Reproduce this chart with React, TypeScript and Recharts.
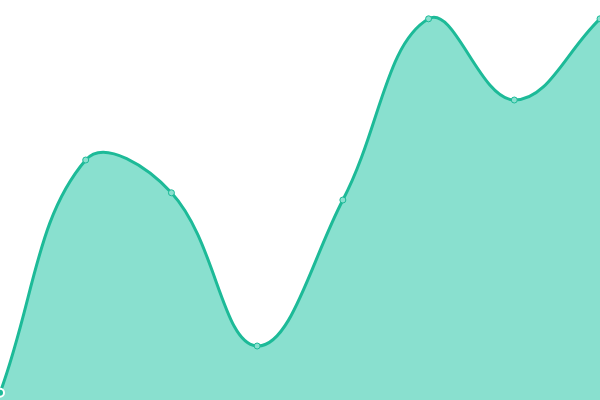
import { AreaChart, Area, XAxis, YAxis } from 'recharts';

const labels = ['A', 'B', 'C', 'D', 'E', 'F', 'G', 'H'];
const values = [1.8, 60, 51.8, 13.5, 50, 95.3, 75, 95.3];

const data = labels.map((label, i) => ({ label, value: values[i] }));

// spline through every point, control points weighted by segment length
function tensionCurve(tension: number) {
  return (context: any) => {
    let pts: number[][] = [];
    let line = NaN;
    const draw = () => {
      const n = pts.length;
      if (!n) return;
      if (line) context.lineTo(pts[0][0], pts[0][1]);
      else context.moveTo(pts[0][0], pts[0][1]);
      if (n === 1) return;
      const cps = pts.map((cur, i) => {
        const prev = pts[i - 1] || cur;
        const next = pts[i + 1] || cur;
        const d01 = Math.hypot(cur[0] - prev[0], cur[1] - prev[1]);
        const d12 = Math.hypot(next[0] - cur[0], next[1] - cur[1]);
        let s01 = d01 / (d01 + d12);
        let s12 = d12 / (d01 + d12);
        if (isNaN(s01)) s01 = 0;
        if (isNaN(s12)) s12 = 0;
        const fa = tension * s01;
        const fb = tension * s12;
        const dx = next[0] - prev[0];
        const dy = next[1] - prev[1];
        return {
          prev: [cur[0] - fa * dx, Math.max(0, cur[1] - fa * dy)],
          next: [cur[0] + fb * dx, Math.max(0, cur[1] + fb * dy)],
        };
      });
      for (let i = 0; i < n - 1; i++) {
        const a = cps[i].next;
        const b = cps[i + 1].prev;
        context.bezierCurveTo(a[0], a[1], b[0], b[1], pts[i + 1][0], pts[i + 1][1]);
      }
    };
    return {
      areaStart() { line = 0; },
      areaEnd() { line = NaN; },
      lineStart() { pts = []; },
      lineEnd() {
        draw();
        if (line || (line !== 0 && pts.length === 1)) context.closePath();
        line = 1 - line;
      },
      point(x: number, y: number) { pts.push([+x, +y]); },
    };
  };
}

const curve = tensionCurve(0.4);

export default function App() {
  return (
    <div style={{ position: 'fixed', top: 0, left: 0, width: 600, height: 400, background: '#fff' }}>
      <AreaChart width={600} height={400} data={data} margin={{ top: 0, right: 0, bottom: 0, left: 0 }}>
        <XAxis dataKey="label" hide padding={{ left: 0, right: 0 }} />
        <YAxis hide domain={[0, 100]} />
        <Area
          type={curve as any}
          dataKey="value"
          stroke="#1dba98"
          strokeWidth={3}
          fill="#89e0cf"
          fillOpacity={1}
          dot={{ r: 3, fill: '#89e0cf', stroke: '#1dba98', strokeWidth: 1, fillOpacity: 1 }}
          isAnimationActive={false}
        />
      </AreaChart>
    </div>
  );
}
